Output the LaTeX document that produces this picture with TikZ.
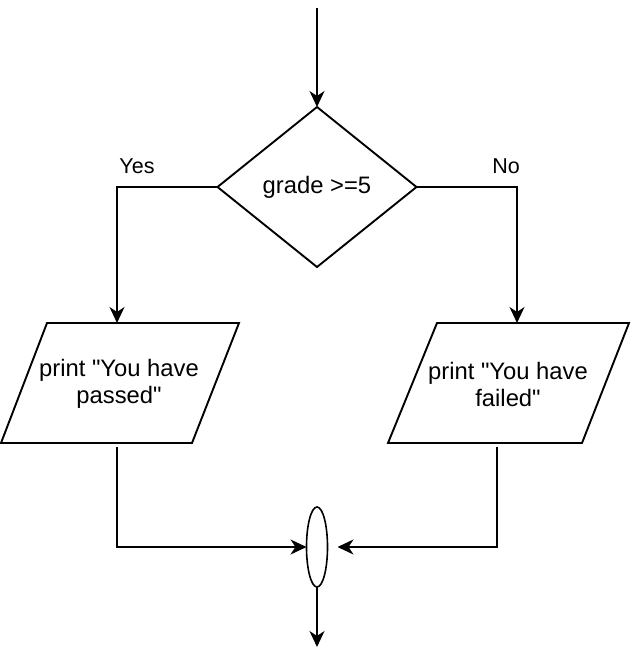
\documentclass[tikz,border=0pt]{standalone}
\usepackage{fontspec}
\setmainfont{Liberation Sans}[Ligatures=TeXOff]
\usetikzlibrary{shapes.geometric,arrows.meta}
\begin{document}
\begin{tikzpicture}[x=1pt,y=-1pt,
  line width=1.9pt,
  every node/.style={inner sep=0pt, outer sep=0pt},
  boxtext/.style={font=\fontsize{23.8}{27}\selectfont, align=center},
  lbl/.style={font=\fontsize{21.5}{24}\selectfont},
  decision/.style={draw, diamond, aspect=1.244, minimum width=199pt, minimum height=160pt, boxtext},
  junction/.style={draw, ellipse, minimum width=21pt, minimum height=80pt, line width=1.6pt},
  flow/.style={-{Stealth[length=16pt,width=15pt,inset=5pt]}, line join=miter}]
\useasboundingbox (0,0) rectangle (634,668);

% decision
\coordinate (start) at (317,8);
\node[decision] (dec) at (317,187) {grade >=5};
\draw[flow] (start) -- (dec.north);

% parallelograms (input/output)
\draw[line join=miter] (47,323) -- (239,323) -- (192,443) -- (1,443) -- cycle;
\node[boxtext] (pass) at (119,384) {print "You have\\passed"};
\draw[line join=miter] (437,323) -- (629,323) -- (582,443) -- (388,443) -- cycle;
\node[boxtext] (fail) at (508,384) {print "You have\\failed"};

\coordinate (passin) at (117,323);
\coordinate (failin) at (517,323);
\coordinate (passout) at (117,447);
\coordinate (failout) at (497,447);

% branches
\draw[flow] (dec.west) -| (passin);
\draw[flow] (dec.east) -| (failin);
\node[lbl] (yes) at (137,166) {Yes};
\node[lbl] (no) at (506,166) {No};

% merge
\node[junction] (merge) at (317,547) {};
\coordinate (end) at (317,647);
\draw[flow] (passout) |- (merge.west);
\draw[flow, shorten >=10pt] (failout) |- (merge.east);
\draw[flow] (merge.south) -- (end);
\end{tikzpicture}
\end{document}
